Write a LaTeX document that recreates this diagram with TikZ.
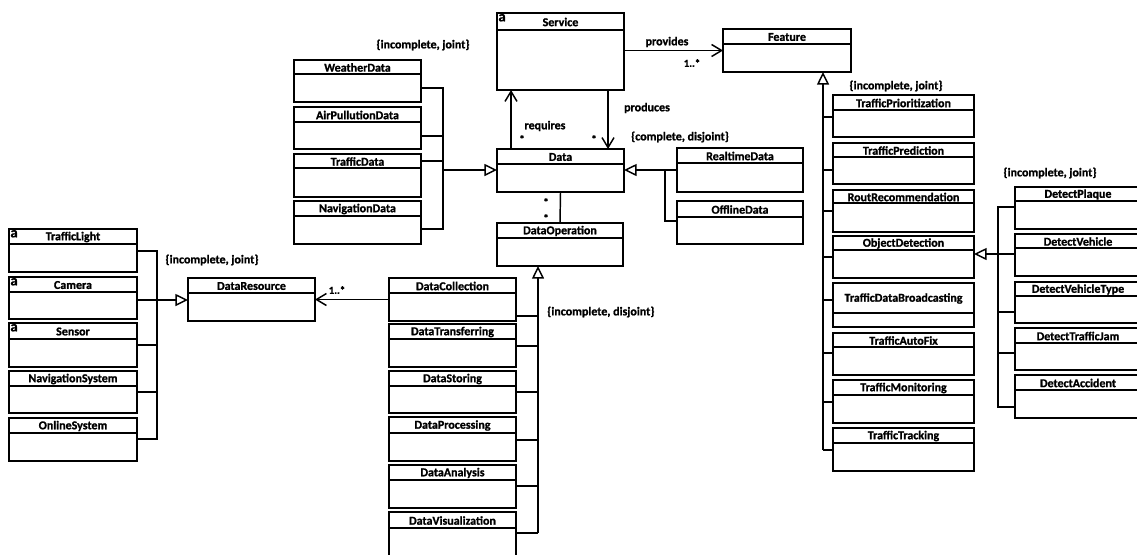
\documentclass[tikz,border=0pt]{standalone}
\usepackage{fontspec}
\setmainfont{Carlito}[BoldFeatures={FakeBold=1.2}]
\usetikzlibrary{arrows.meta,fit,calc}

% class box: name, x1, y1, x2, y2, y of the name line, class name
\newcommand\umlclass[7]{%
  \node[classbox, fit={(#2,#3) (#4,#5)}] (#1) {};
  \draw[classline] (#2,#6) -- (#4,#6);
  \node[cname] (#1-name) at ({(#2+#4)/2},{(#3+#6)/2+0.5}) {#7};
}
% abstract marker in the top left corner
\newcommand\abstractmark[1]{%
  \node[amark, anchor=north west] (#1-a) at ([xshift=0.9pt,yshift=-0.6pt]#1.north west) {a};
}

\begin{document}
\begin{tikzpicture}[x=0.75pt,y=-0.75pt,
  classbox/.style={draw, line width=1.25pt, inner sep=0pt, outer sep=0pt},
  classline/.style={line width=1.2pt},
  cname/.style={font=\bfseries\fontsize{9}{10}\selectfont, inner sep=0pt},
  amark/.style={font=\bfseries\fontsize{11}{12}\selectfont, inner sep=0pt},
  note/.style={font=\bfseries\fontsize{9}{10}\selectfont, inner sep=0pt},
  mult/.style={font=\bfseries\fontsize{8}{9}\selectfont, inner sep=0pt},
  link/.style={line width=1.1pt},
  assoc/.style={link, -{Straight Barb[length=7.5pt,width=9pt]}},
  gen/.style={link, -{Triangle[open,length=9.5pt,width=9pt,line width=1.1pt]}}]
\useasboundingbox (0,0) rectangle (1137,554);
\fill[white] (0,0) rectangle (1137,554);
\clip (0,0) rectangle (1137,554);

% core classes
\umlclass{service}{497}{13}{624}{90}{30}{Service}
\abstractmark{service}
\umlclass{feature}{723}{29}{851}{72}{44}{Feature}
\umlclass{data}{497}{149}{624}{192}{164}{Data}
\umlclass{realtime}{677}{148}{803}{192}{163}{RealtimeData}
\umlclass{offline}{677}{201}{803}{244}{217}{OfflineData}
\umlclass{dataop}{497}{223}{623}{266}{238}{DataOperation}

% kinds of data
\umlclass{weather}{294}{60}{421}{102}{74}{WeatherData}
\umlclass{airpol}{294}{107}{421}{149}{122}{AirPullutionData}
\umlclass{trafficdata}{294}{154}{421}{197}{168}{TrafficData}
\umlclass{navdata}{294}{201}{421}{244}{216}{NavigationData}

% data resources
\umlclass{trafficlight}{9}{229}{137}{272}{244}{TrafficLight}
\abstractmark{trafficlight}
\umlclass{camera}{9}{277}{137}{319}{292}{Camera}
\abstractmark{camera}
\umlclass{sensor}{9}{323}{137}{367}{339}{Sensor}
\abstractmark{sensor}
\umlclass{navsys}{9}{371}{137}{413}{386}{NavigationSystem}
\umlclass{online}{9}{418}{137}{461}{433}{OnlineSystem}
\umlclass{dataresource}{188}{278}{315}{321}{293}{DataResource}

% data operations
\umlclass{collection}{389}{278}{516}{321}{293}{DataCollection}
\umlclass{transfer}{389}{324}{516}{367}{339}{DataTransferring}
\umlclass{storing}{389}{371}{516}{413}{386}{DataStoring}
\umlclass{processing}{389}{417}{516}{461}{433}{DataProcessing}
\umlclass{analysis}{389}{465}{516}{508}{480}{DataAnalysis}
\umlclass{visual}{389}{512}{516}{562}{528}{DataVisualization}

% features
\umlclass{prioritization}{833}{95}{974}{137}{110}{TrafficPrioritization}
\umlclass{prediction}{833}{143}{974}{184}{157}{TrafficPrediction}
\umlclass{routrec}{833}{190}{974}{232}{203}{RoutRecommendation}
\umlclass{objdet}{833}{236}{974}{278}{250}{ObjectDetection}
\umlclass{broadcast}{833}{283}{974}{327}{313}{TrafficDataBroadcasting}
\umlclass{autofix}{833}{333}{974}{375}{347}{TrafficAutoFix}
\umlclass{monitoring}{833}{380}{974}{423}{395}{TrafficMonitoring}
\umlclass{tracking}{833}{428}{974}{471}{443}{TrafficTracking}

% object detection kinds
\umlclass{plaque}{1015}{187}{1141}{229}{201}{DetectPlaque}
\umlclass{vehicle}{1015}{234}{1141}{276}{248}{DetectVehicle}
\umlclass{vehicletype}{1015}{282}{1141}{323}{296}{DetectVehicleType}
\umlclass{jam}{1015}{328}{1141}{370}{343}{DetectTrafficJam}
\umlclass{accident}{1015}{375}{1141}{418}{390}{DetectAccident}

% associations
\draw[assoc] (service.east |- feature.west) -- (feature.west);
\draw[assoc] ($(data.north west)+(14,0)$) -- ($(service.south west)+(14,0)$);
\draw[assoc] ($(service.south west)+(111,0)$) -- ($(data.north west)+(111,0)$);
\draw[link] (data.south) -- (dataop.north);
\draw[assoc] (collection.west) -- (dataresource.east);

\node[note] (l-provides) at (667,42) {provides};
\node[mult] (m-provides) at (692,63) {1..*};
\node[note] (l-produces) at (647,108) {produces};
\node[note] (l-requires) at (545,126) {requires};
\node[mult] (m-requires) at (522,139) {*};
\node[mult] (m-produces) at (594,139) {*};
\node[mult] (m-data) at (546,202) {*};
\node[mult] (m-dataop) at (546,218) {*};
\node[mult] (m-resource) at (337,290) {1..*};

% generalization: kinds of data
\coordinate (jdata) at (443,170);
\draw[link] (weather.east |- 0,88) -| (jdata);
\draw[link] (airpol.east |- 0,136) -- (jdata |- 0,136);
\draw[link] (trafficdata.east |- 0,161) -- (jdata |- 0,161);
\draw[link] (navdata.east |- 0,229) -| (jdata);
\draw[gen] (jdata) -- (data.west |- jdata);
\node[note] (c-data) at (423,45) {\{incomplete, joint\}};

% generalization: realtime / offline
\coordinate (jrt) at (665,170);
\draw[gen] (realtime.west |- jrt) -- (data.east |- jrt);
\draw[link] (offline.west |- 0,221) -| (jrt);
\node[note] (c-rt) at (680,137) {\{complete, disjoint\}};

% generalization: data resources
\coordinate (jres) at (157,300);
\draw[link] (trafficlight.east |- 0,251) -| (jres);
\draw[link] (camera.east |- jres) -- (jres);
\draw[link] (sensor.east |- 0,345) -- (jres |- 0,345);
\draw[link] (navsys.east |- 0,392) -- (jres |- 0,392);
\draw[link] (online.east |- 0,439) -| (jres);
\draw[gen] (jres) -- (dataresource.west |- jres);
\node[note] (c-res) at (212,260) {\{incomplete, joint\}};

% generalization: data operations
\coordinate (jop) at (538,533);
\draw[gen] (jop) -- (jop |- dataop.south);
\draw[link] (collection.east |- 0,316) -- (jop |- 0,316);
\draw[link] (transfer.east |- 0,346) -- (jop |- 0,346);
\draw[link] (storing.east |- 0,392) -- (jop |- 0,392);
\draw[link] (processing.east |- 0,440) -- (jop |- 0,440);
\draw[link] (analysis.east |- 0,486) -- (jop |- 0,486);
\draw[link] (visual.east |- jop) -- (jop);
\node[note, anchor=west] (c-op) at (547,312) {\{incomplete, disjoint\}};

% generalization: features
\coordinate (jfeat) at (823,450);
\draw[gen] (jfeat) -- (jfeat |- feature.south);
\draw[link] (prioritization.west |- 0,117) -- (jfeat |- 0,117);
\draw[link] (prediction.west |- 0,170) -- (jfeat |- 0,170);
\draw[link] (routrec.west |- 0,211) -- (jfeat |- 0,211);
\draw[link] (objdet.west |- 0,257) -- (jfeat |- 0,257);
\draw[link] (broadcast.west |- 0,300) -- (jfeat |- 0,300);
\draw[link] (autofix.west |- 0,353) -- (jfeat |- 0,353);
\draw[link] (monitoring.west |- 0,402) -- (jfeat |- 0,402);
\draw[link] (tracking.west |- jfeat) -- (jfeat);
\node[note] (c-feat) at (896,86) {\{incomplete, joint\}};

% generalization: object detection kinds
\coordinate (jdet) at (998,254);
\draw[gen] (vehicle.west |- jdet) -- (objdet.east |- jdet);
\draw[link] (plaque.west |- 0,207) -| (jdet);
\draw[link] (vehicletype.west |- 0,312) -- (jdet |- 0,312);
\draw[link] (jam.west |- 0,353) -- (jdet |- 0,353);
\draw[link] (accident.west |- 0,407) -| (jdet);
\node[note] (c-det) at (1050,173) {\{incomplete, joint\}};
\end{tikzpicture}
\end{document}
